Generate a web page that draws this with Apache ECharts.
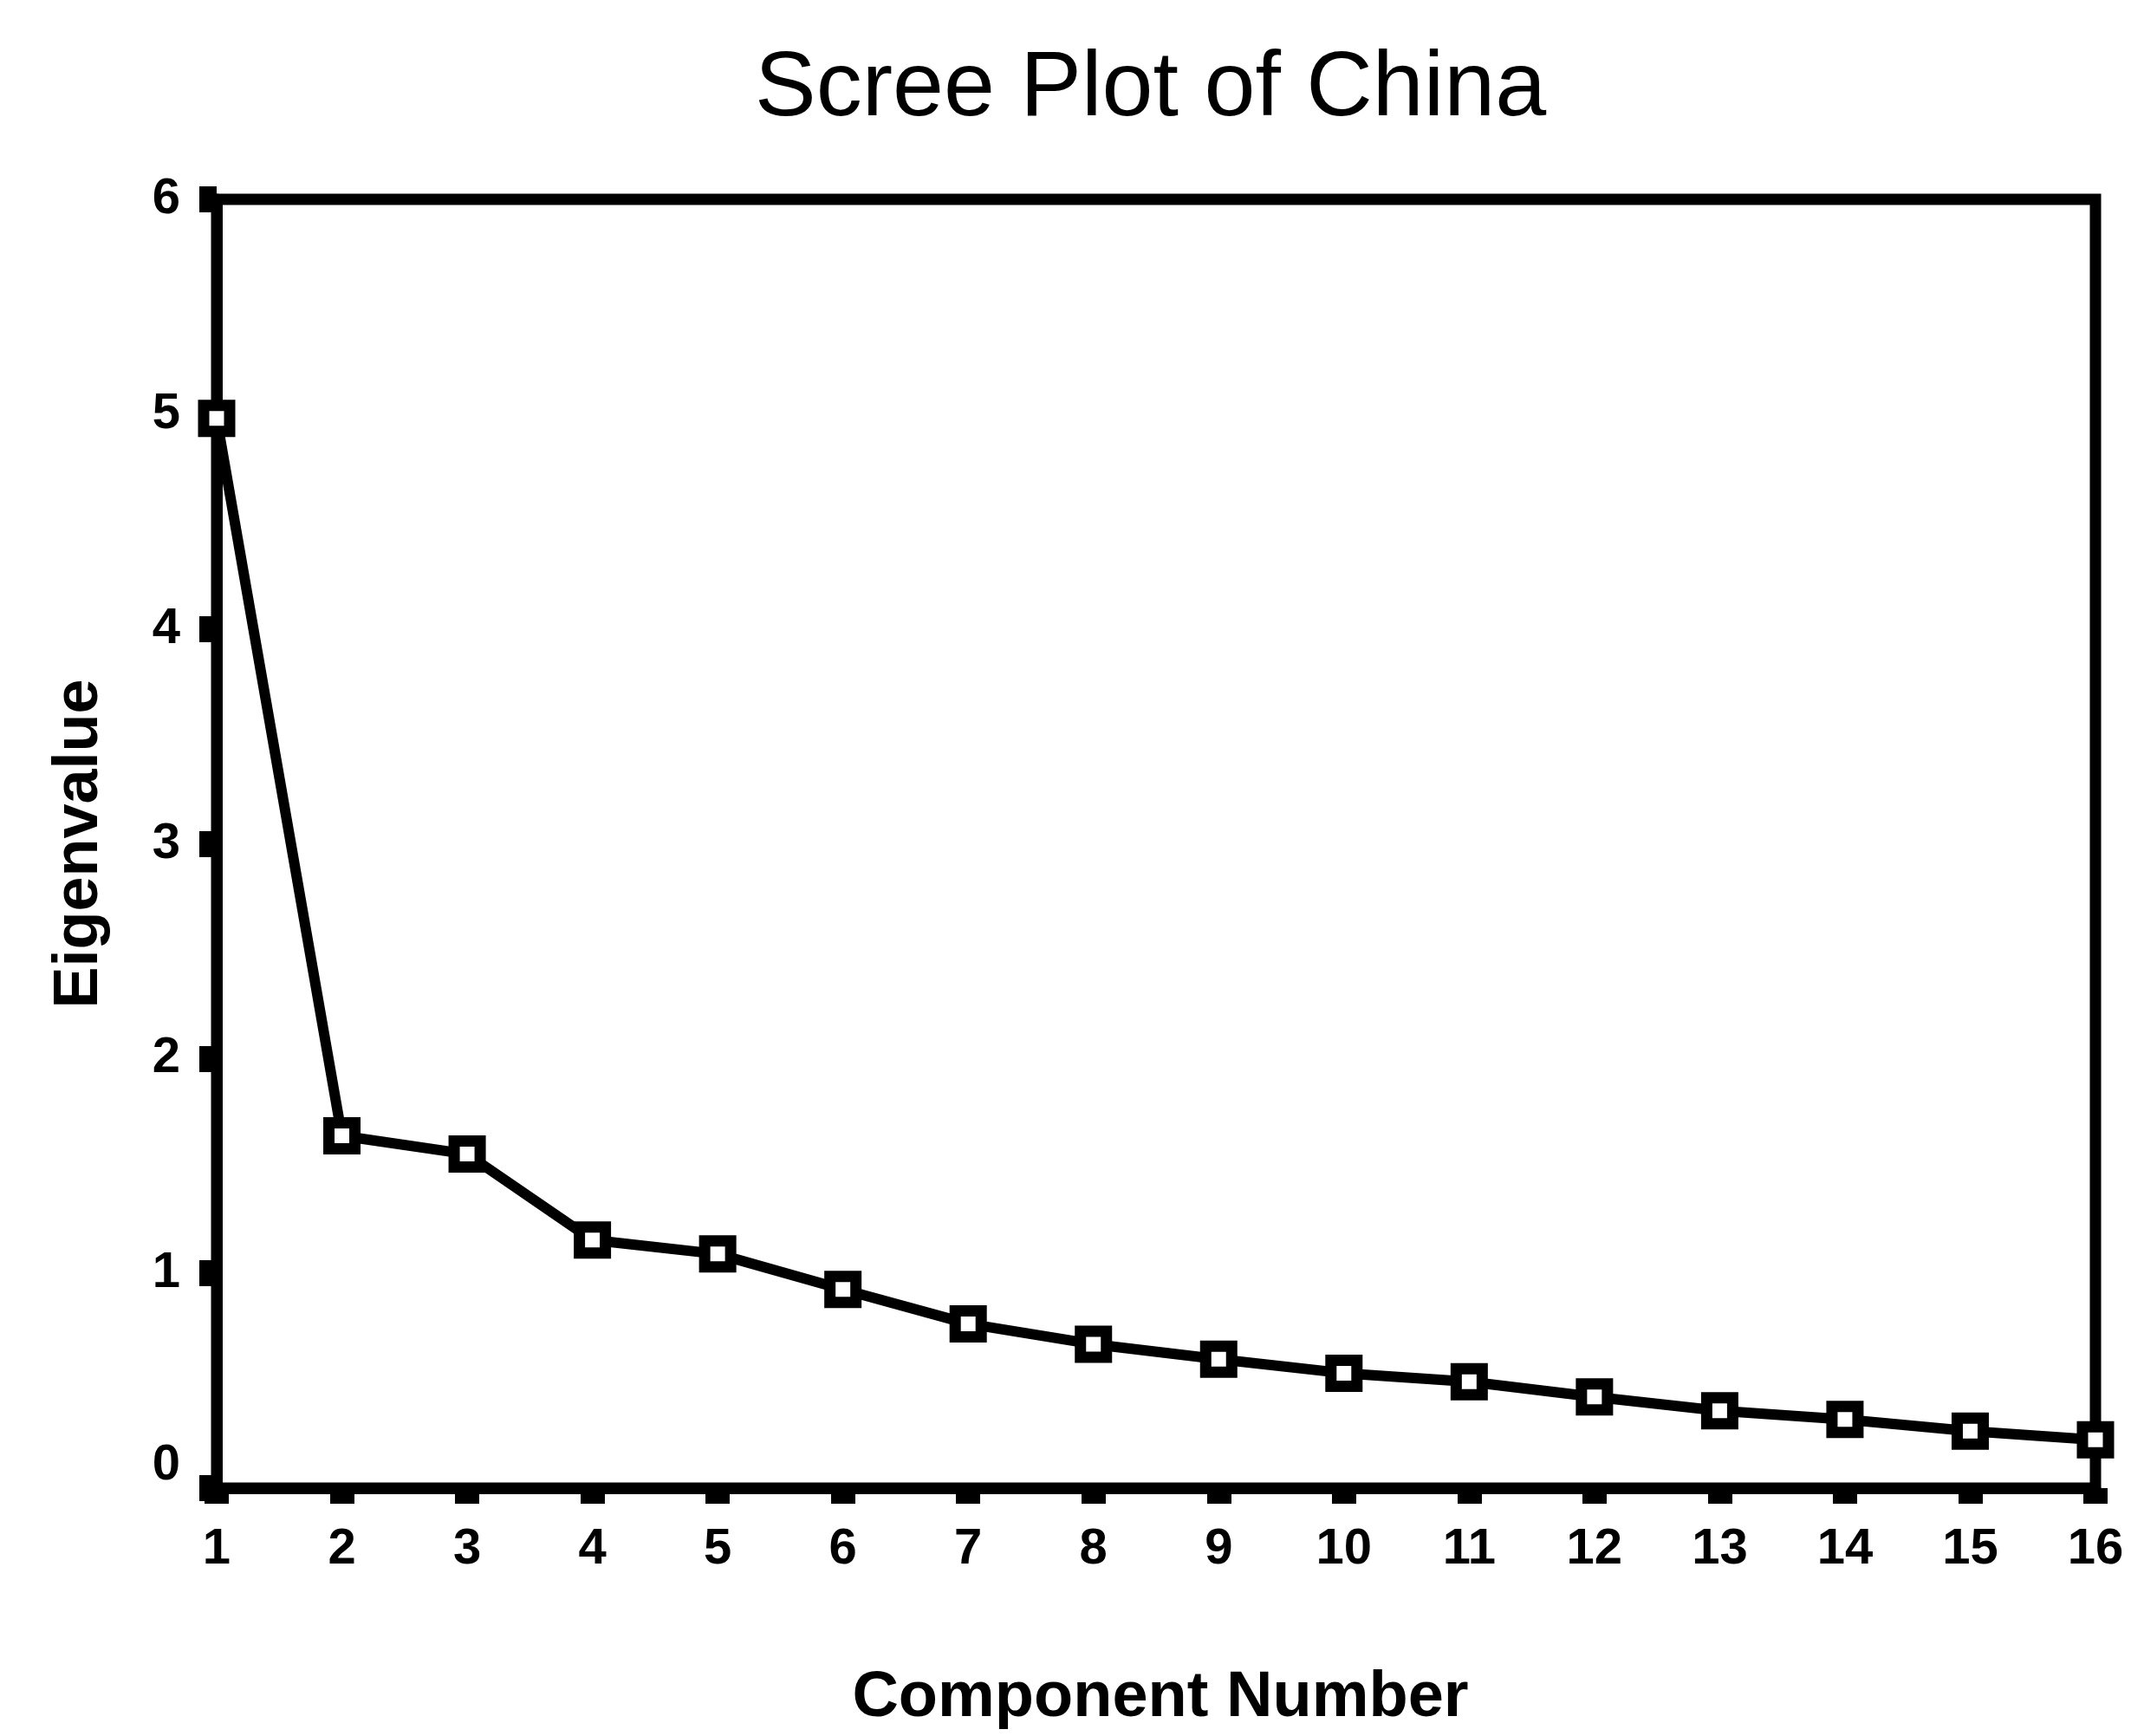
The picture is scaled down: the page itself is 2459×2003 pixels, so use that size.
<!DOCTYPE html>
<html>
<head>
<meta charset="utf-8">
<script src="https://cdn.jsdelivr.net/npm/echarts@6/dist/echarts.min.js"></script>
<style>
  html, body { margin: 0; padding: 0; background: #fff; }
  #chart { width: 2459px; height: 2003px; }
</style>
</head>
<body>
<div id="chart"></div>
<script>
// ---- data ----
const chartTitle = 'Scree Plot of China';
const xAxisName = 'Component Number';
const yAxisName = 'Eigenvalue';
const componentNumbers = ['1','2','3','4','5','6','7','8','9','10','11','12','13','14','15','16'];
const eigenvalues = [4.98, 1.64, 1.555, 1.155, 1.09, 0.925, 0.765, 0.67, 0.60, 0.535, 0.495, 0.425, 0.36, 0.32, 0.265, 0.225];
const yMin = 0;
const yMax = 6;
const yStep = 1;

const FONT = '"Liberation Sans", Arial, Helvetica, sans-serif';
const chart = echarts.init(document.getElementById('chart'), null, { renderer: 'canvas' });

chart.setOption({
  backgroundColor: '#ffffff',
  animation: false,
  title: {
    text: chartTitle,
    left: 866,
    top: 46,
    textStyle: { fontFamily: FONT, fontSize: 106, fontWeight: 'normal', color: '#000' }
  },
  grid: {
    left: 250, right: 41, top: 230, bottom: 286,
    containLabel: false,
    outerBoundsMode: 'none',
    show: true,
    borderColor: '#000',
    borderWidth: 13,
    backgroundColor: 'transparent'
  },
  xAxis: {
    type: 'category',
    data: componentNumbers,
    boundaryGap: false,
    name: xAxisName,
    nameLocation: 'middle',
    nameGap: 206,
    nameTextStyle: { fontFamily: FONT, fontSize: 74, fontWeight: 'bold', color: '#000', padding: [0, 0, 0, 10] },
    axisLine: { show: true, lineStyle: { color: '#000', width: 13 } },
    axisTick: { show: true, inside: false, length: 18, lineStyle: { color: '#000', width: 28 } },
    axisLabel: {
      show: true, interval: 0, margin: 42,
      fontFamily: FONT, fontSize: 58, fontWeight: 'bold', color: '#000'
    },
    splitLine: { show: false }
  },
  yAxis: {
    type: 'value',
    min: yMin, max: yMax, interval: yStep,
    name: yAxisName,
    nameLocation: 'middle',
    nameGap: 122,
    nameRotate: 90,
    nameTextStyle: { fontFamily: FONT, fontSize: 72, fontWeight: 'bold', color: '#000' },
    axisLine: { show: true, lineStyle: { color: '#000', width: 13 } },
    axisTick: { show: true, inside: false, length: 20, lineStyle: { color: '#000', width: 30 } },
    axisLabel: {
      show: true, margin: 42,
      fontFamily: FONT, fontSize: 58, fontWeight: 'bold', color: '#000',
      formatter: function (v) { return v === 0 ? '{z|' + v + '}' : '{n|' + v + '}'; },
      rich: {
        z: { fontFamily: FONT, fontSize: 58, fontWeight: 'bold', color: '#000', padding: [0, 0, 52, 0] },
        n: { fontFamily: FONT, fontSize: 58, fontWeight: 'bold', color: '#000' }
      }
    },
    splitLine: { show: false }
  },
  series: [{
    type: 'line',
    data: eigenvalues,
    symbol: 'rect',
    symbolSize: 30,
    showAllSymbol: true,
    clip: false,
    lineStyle: { color: '#000', width: 12 },
    itemStyle: { color: '#fff', borderColor: '#000', borderWidth: 13 },
    z: 3
  }]
});
</script>
</body>
</html>
